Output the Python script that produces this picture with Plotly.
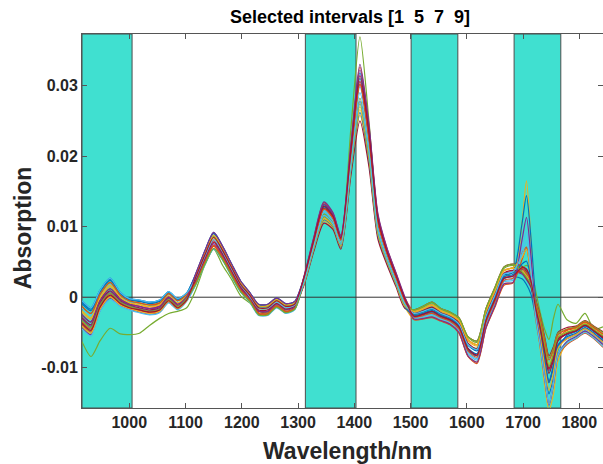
import plotly.graph_objects as go

# Wavelength grid (nm)
wavelength_nm = [916, 932, 948, 966, 984, 1000, 1018, 1036, 1054, 1070, 1086, 1102, 1118, 1134, 1150,
                 1166, 1182, 1198, 1214, 1230, 1246, 1262, 1278, 1294, 1310, 1328, 1346, 1362, 1376,
                 1394, 1410, 1426, 1442, 1458, 1474, 1490, 1506, 1522, 1538, 1554, 1570, 1586, 1602,
                 1618, 1634, 1650, 1666, 1682, 1698, 1706, 1714, 1722, 1730, 1738, 1746, 1754, 1762,
                 1778, 1794, 1810, 1826, 1842]

# Spectra, absorption in units of 1e-4
spec_a = [-9,-19,7,24,5,-4,-6,-9,-6,6,-4,5,31,63,90,70,45,21,6,-12,-12,-2,-10,-7,25,80,128,114,83,206,310,230,109,64,30,-4,-27,-25,-22,-28,-33,-44,-75,-83,-35,-5,26,29,26,18,4,-26,-52,-88,-119,-97,-68,-59,-53,-45,-53,-64]
spec_b = [-35,-45,-13,5,-8,-14,-18,-21,-18,-4,-14,-3,21,50,74,57,34,11,-4,-22,-22,-12,-20,-15,27,84,134,119,87,215,326,242,116,69,34,-1,-20,-16,-11,-19,-24,-33,-60,-67,-20,9,38,42,63,71,46,-2,-34,-69,-102,-85,-58,-47,-44,-36,-44,-53]
spec_c = [-21,-31,-2,15,-1,-8,-11,-14,-11,2,-8,1,27,57,82,64,40,17,1,-16,-16,-7,-15,-11,17,67,108,98,70,177,258,191,86,48,17,-14,-31,-30,-28,-33,-38,-50,-83,-92,-43,-12,19,21,105,165,81,-14,-70,-124,-160,-137,-90,-65,-58,-50,-58,-70]
spec_d = [-43,-53,-19,-2,-12,-17,-21,-24,-21,-7,-17,-5,18,46,69,53,30,8,-6,-25,-25,-14,-22,-17,20,72,116,104,75,188,278,206,95,54,22,-10,-23,-20,-16,-23,-28,-38,-67,-74,-27,3,33,36,33,25,14,-16,-41,-74,-104,-86,-60,-52,-48,-40,-48,-58]
spec_e = [-63,-84,-62,-44,-52,-53,-51,-40,-30,-23,-20,-15,10,45,68,45,25,2,-8,-20,-22,-12,-18,-12,25,80,118,110,82,240,369,250,105,55,22,-10,-25,-20,-15,-25,-32,-42,-68,-72,-30,0,28,35,42,45,40,10,-20,-45,-60,-30,-10,-32,-37,-23,-45,-42]
spec_f = [-15,-25,3,20,2,-6,-9,-12,-9,4,-6,3,29,60,86,67,43,19,4,-14,-14,-5,-13,-9,23,77,123,110,80,199,298,221,104,60,27,-6,-30,-28,-25,-31,-36,-47,-80,-89,-40,-9,22,24,69,93,46,-20,-62,-109,-148,-119,-80,-63,-56,-48,-56,-67]
spec_g = [-29,-39,-8,9,-5,-12,-15,-18,-15,-2,-12,-1,23,53,78,60,36,13,-1,-20,-20,-9,-17,-13,16,65,105,96,68,173,250,185,82,46,15,-16,-18,-13,-7,-16,-21,-29,-56,-62,-16,14,43,47,44,36,28,-2,-25,-55,-83,-70,-50,-43,-41,-33,-41,-49]
spec_h = [-5,-15,10,27,7,-2,-4,-7,-4,8,-2,6,33,65,92,72,47,23,7,-10,-10,-1,-9,-6,26,82,131,116,85,210,318,236,113,66,32,-2,-24,-21,-17,-24,-29,-39,-68,-76,-28,2,31,35,104,144,84,0,-49,-95,-137,-112,-74,-54,-49,-41,-49,-59]
spec_i = [-39,-49,-16,2,-10,-16,-19,-22,-19,-6,-16,-4,19,48,72,55,32,9,-5,-24,-24,-13,-21,-16,24,78,125,112,81,202,302,224,105,62,28,-6,-32,-31,-29,-34,-39,-51,-84,-94,-44,-14,17,20,53,69,28,-29,-68,-114,-152,-122,-83,-67,-59,-51,-59,-71]
spec_j = [-19,-29,0,17,0,-8,-10,-13,-10,2,-8,2,27,58,84,65,41,17,2,-16,-16,-6,-14,-10,19,70,113,102,73,184,270,200,91,52,20,-12,-21,-17,-12,-20,-25,-34,-62,-69,-22,8,37,41,38,30,20,-10,-34,-66,-95,-79,-56,-49,-45,-37,-45,-54]
spec_k = [-31,-41,-10,8,-6,-12,-16,-19,-16,-2,-12,-2,23,52,76,59,35,13,-2,-20,-20,-10,-18,-14,28,85,135,120,88,217,330,245,118,70,35,0,-27,-24,-20,-27,-32,-42,-73,-82,-33,-3,27,30,39,39,18,-21,-50,-89,-121,-98,-68,-58,-52,-44,-52,-62]
spec_l = [-13,-23,4,21,3,-5,-8,-11,-8,5,-5,4,30,61,87,68,43,20,4,-13,-13,-4,-12,-8,21,73,117,106,76,191,282,209,96,56,23,-10,-19,-14,-8,-17,-22,-30,-57,-64,-17,12,41,45,42,34,26,-4,-27,-58,-86,-72,-51,-45,-42,-34,-42,-50]
spec_m = [-45,-55,-20,-3,-13,-18,-22,-25,-22,-8,-18,-6,17,45,68,52,29,7,-7,-26,-26,-15,-23,-18,22,75,120,108,78,195,290,215,100,58,25,-8,-29,-27,-24,-30,-35,-46,-78,-87,-38,-8,23,26,80,110,57,-16,-61,-108,-149,-120,-81,-62,-55,-47,-55,-66]
spec_n = [-25,-35,-5,12,-3,-10,-13,-16,-13,0,-10,0,25,55,80,62,38,15,0,-18,-18,-8,-16,-12,24,79,126,113,82,204,306,227,107,63,29,-5,-23,-19,-14,-22,-27,-36,-65,-73,-25,5,34,38,35,27,16,-14,-38,-72,-101,-83,-59,-51,-47,-39,-47,-56]
spec_o = [-7,-17,9,26,6,-3,-5,-8,-5,7,-3,5,32,64,91,71,46,22,6,-11,-11,-2,-10,-7,18,68,110,100,71,180,262,194,87,50,18,-14,-26,-23,-19,-26,-31,-41,-72,-80,-32,-2,29,32,47,51,26,-18,-49,-87,-121,-98,-68,-56,-51,-43,-51,-61]
spec_p = [-13,-23,4,21,3,-5,-8,-11,-8,5,-5,4,20,49,73,56,33,10,-4,-23,-23,-12,-20,-16,24,78,125,112,81,202,302,224,105,62,28,-6,-28,-26,-23,-29,-34,-45,-76,-85,-36,-6,24,27,41,33,24,-6,-30,-60,-89,-75,-53,-46,-43,-35,-43,-52]
spec_q = [-41,-51,-17,0,-11,-16,-20,-23,-20,-6,-16,-5,31,62,88,69,44,21,5,-12,-12,-3,-11,-8,18,69,111,101,72,182,266,197,89,51,19,-13,-20,-16,-11,-19,-24,-33,-60,-67,-20,9,38,42,56,68,34,-19,-54,-96,-132,-107,-73,-59,-53,-45,-53,-64]
spec_r = [-25,-35,-5,12,-3,-10,-13,-16,-13,0,-10,0,33,65,92,72,47,23,7,-10,-10,-1,-9,-6,27,83,132,118,86,213,322,239,114,68,33,-2,-31,-30,-28,-33,-38,-50,-83,-92,-43,-12,19,21,81,113,58,-17,-63,-112,-153,-123,-82,-63,-56,-48,-56,-67]
spec_s = [-33,-43,-11,6,-7,-13,-17,-20,-17,-3,-13,-2,18,46,69,53,30,8,-6,-25,-25,-14,-22,-17,20,71,114,103,74,186,274,203,93,53,21,-11,-18,-13,-7,-16,-21,-29,-56,-62,-16,14,43,47,36,28,18,-12,-36,-69,-98,-81,-57,-50,-46,-38,-46,-55]
spec_t = [-5,-15,10,27,7,-2,-4,-7,-4,8,-2,6,27,57,82,64,40,17,1,-16,-16,-7,-15,-11,20,72,116,104,75,188,278,206,95,54,22,-10,-23,-20,-16,-23,-28,-38,-67,-74,-27,3,33,36,60,80,36,-26,-66,-113,-152,-122,-82,-65,-58,-50,-58,-70]
spec_u = [-37,-47,-14,3,-9,-15,-18,-21,-18,-5,-15,-4,28,59,85,66,42,18,3,-15,-15,-5,-13,-10,26,81,129,115,84,208,314,233,111,65,31,-3,-27,-24,-20,-27,-32,-42,-73,-82,-33,-3,27,30,42,40,23,-14,-42,-76,-108,-89,-62,-52,-48,-40,-48,-58]

spectra = [spec_a, spec_b, spec_c, spec_d, spec_e, spec_f, spec_g, spec_h, spec_i, spec_j, spec_k,
           spec_l, spec_m, spec_n, spec_o, spec_p, spec_q, spec_r, spec_s, spec_t, spec_u]

# Selected intervals (nm)
interval_start = [916, 1313, 1501, 1684]
interval_end = [1005, 1403, 1584, 1767]

x_tick_vals = [1000, 1100, 1200, 1300, 1400, 1500, 1600, 1700, 1800]
x_tick_text = ["1000", "1100", "1200", "1300", "1400", "1500", "1600", "1700", "1800"]
y_tick_vals = [-0.01, 0, 0.01, 0.02, 0.03]
y_tick_text = ["-0.01", "0", "0.01", "0.02", "0.03"]

colors = ["#0072BD", "#D95319", "#EDB120", "#7E2F8E", "#77AC30", "#4DBEEE", "#A2142F"]

for s in spectra:
    assert len(s) == len(wavelength_nm)

fig = go.Figure()
for i, s in enumerate(spectra):
    fig.add_trace(go.Scatter(
        x=wavelength_nm, y=[v * 1e-4 for v in s], mode="lines",
        line=dict(color=colors[i % len(colors)], width=1.2, shape="spline", smoothing=0.7),
        showlegend=False, hoverinfo="skip"))

shapes = []
for a, b in zip(interval_start, interval_end):
    shapes.append(dict(type="rect", xref="x", yref="paper", x0=a, x1=b, y0=0, y1=1,
                       fillcolor="#40E0D0", line=dict(color="#4d4d4d", width=1), layer="below"))
shapes.append(dict(type="line", xref="paper", yref="y", x0=0, x1=1, y0=0, y1=0,
                   line=dict(color="#333333", width=1), layer="below"))

font_family = "Liberation Sans, Arial, sans-serif"
fig.update_layout(
    width=603, height=464,
    margin=dict(l=82, r=0, t=34, b=56),
    paper_bgcolor="white", plot_bgcolor="white",
    shapes=shapes,
    font=dict(family=font_family, color="#262626"),
    xaxis=dict(range=[916, 1842], tickvals=x_tick_vals, ticktext=x_tick_text,
               ticks="inside", ticklen=5, tickcolor="#555", showline=True, linecolor="#555",
               linewidth=1, mirror="ticks", showgrid=False, zeroline=False,
               tickfont=dict(size=16, weight="bold", color="#262626")),
    yaxis=dict(range=[-0.0157, 0.0373], tickvals=y_tick_vals, ticktext=y_tick_text,
               ticks="inside", ticklen=5, tickcolor="#555", showline=True, linecolor="#555",
               linewidth=1, mirror="ticks", showgrid=False, zeroline=False,
               tickfont=dict(size=16, weight="bold", color="#262626")),
    annotations=[
        dict(text="Selected intervals [1  5  7  9]", xref="paper", yref="paper", x=0.514, y=1.045,
             showarrow=False, xanchor="center", yanchor="middle",
             font=dict(size=18, weight="bold", color="black")),
        dict(text="Wavelength/nm", xref="paper", yref="paper", x=0.51, y=-0.115,
             showarrow=False, xanchor="center", yanchor="middle",
             font=dict(size=23, weight="bold", color="#262626")),
        dict(text="Absorption", xref="paper", yref="paper", x=-0.113, y=0.481, textangle=-90,
             showarrow=False, xanchor="center", yanchor="middle",
             font=dict(size=23, weight="bold", color="#262626")),
    ],
)

fig.write_html("out.html", config={"displayModeBar": False},
               post_script="document.body.style.margin='0px';document.body.style.padding='0px';"
                           "document.body.style.overflow='hidden';")
